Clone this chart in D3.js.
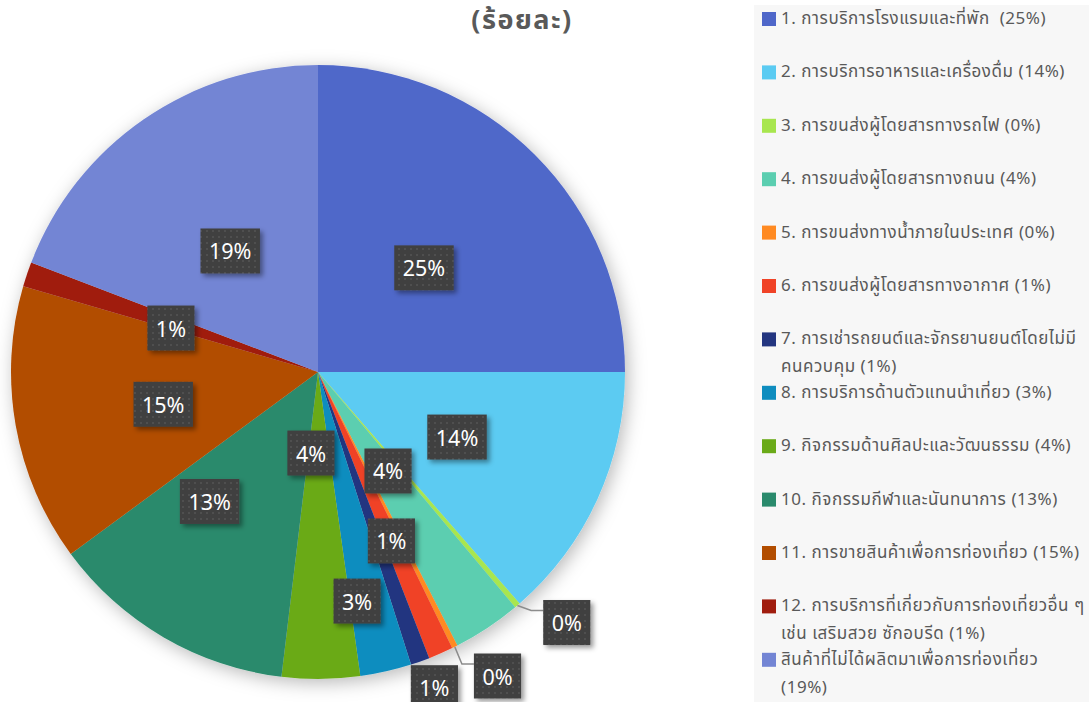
<!DOCTYPE html>
<html>
<head>
<meta charset="utf-8">
<script src="https://cdn.jsdelivr.net/npm/d3@7"></script>
<style>
  html, body { margin: 0; padding: 0; background: #ffffff; }
  svg { display: block; }
</style>
</head>
<body>
<svg id="chart" width="1089" height="702"></svg>
<script>
// ---- data ----
const categories = [
  "1. การบริการโรงแรมและที่พัก ",
  "2. การบริการอาหารและเครื่องดื่ม",
  "3. การขนส่งผู้โดยสารทางรถไฟ",
  "4. การขนส่งผู้โดยสารทางถนน",
  "5. การขนส่งทางน้ำภายในประเทศ",
  "6. การขนส่งผู้โดยสารทางอากาศ",
  "7. การเช่ารถยนต์และจักรยานยนต์โดยไม่มี\nคนควบคุม",
  "8. การบริการด้านตัวแทนนำเที่ยว",
  "9. กิจกรรมด้านศิลปะและวัฒนธรรม",
  "10. กิจกรรมกีฬาและนันทนาการ",
  "11. การขายสินค้าเพื่อการท่องเที่ยว",
  "12. การบริการที่เกี่ยวกับการท่องเที่ยวอื่น ๆ\nเช่น เสริมสวย ซักอบรีด",
  "สินค้าที่ไม่ได้ผลิตมาเพื่อการท่องเที่ยว\n"
];
const values = [25.0, 13.6, 0.3, 3.6, 0.3, 1.3, 1.0, 2.7, 4.1, 13.0, 14.6, 1.3, 19.2];
const colors = ["#4F67C9", "#5BCBF2", "#A8E64F", "#5BCEB0", "#FF8A22", "#F04327",
                "#233580", "#0F8DBF", "#6AAA18", "#2A8A6C", "#B24D00", "#A01D0E", "#7385D4"];
const titleText = "(ร้อยละ)";
// label layout: [radius factor, angle offset in degrees, outside with leader]
const labelLayout = [
  [0.484, 0.5, false], [0.50, 0.6, false], [1.15, -4.3, true], [0.395, -1.8, false],
  [1.15, -4.1, true], [0.60, 0.1, false], [1.096, -0.8, false], [0.757, 3.1, false],
  [0.265, 5.5, false], [0.55, 9.7, false], [0.515, -1.7, false], [0.50, -1.9, false],
  [0.487, -1.4, false]
];

// ---- chart ----
const svg = d3.select("#chart");
const W = 1089, H = 702;
const cx = 318, cy = 372, R = 307;
const fmt = d3.format(".0%");
const total = d3.sum(values);
const pctLabel = v => fmt(v / total);

const defs = svg.append("defs");
const pieShadow = defs.append("filter").attr("id", "pieShadow")
  .attr("x", "-20%").attr("y", "-20%").attr("width", "140%").attr("height", "140%");
pieShadow.append("feDropShadow").attr("dx", 3).attr("dy", 4)
  .attr("stdDeviation", 9).attr("flood-color", "#000").attr("flood-opacity", 0.28);
const boxShadow = defs.append("filter").attr("id", "boxShadow")
  .attr("x", "-30%").attr("y", "-30%").attr("width", "160%").attr("height", "160%");
boxShadow.append("feDropShadow").attr("dx", 3).attr("dy", 3)
  .attr("stdDeviation", 2.5).attr("flood-color", "#000").attr("flood-opacity", 0.4);
const pat = defs.append("pattern").attr("id", "dots")
  .attr("width", 6).attr("height", 6).attr("patternUnits", "userSpaceOnUse");
pat.append("rect").attr("width", 6).attr("height", 6).attr("fill", "#404040");
pat.append("circle").attr("cx", 3).attr("cy", 3).attr("r", 0.9).attr("fill", "#575757");

// legend background
const legendX = 754;
svg.append("rect").attr("x", legendX).attr("y", 5).attr("width", W - legendX).attr("height", H - 5)
  .attr("fill", "#F7F7F7");

// title
svg.append("text").attr("x", 522).attr("y", 29)
  .attr("text-anchor", "middle")
  .attr("font-family", "Tahoma, 'Noto Sans Thai', 'Noto Sans', sans-serif")
  .attr("font-size", 27).attr("letter-spacing", 1.5).attr("font-weight", "bold").attr("fill", "#595959")
  .text(titleText);

// pie
const pie = d3.pie().sort(null).value(d => d)(values);
const arc = d3.arc().innerRadius(0).outerRadius(R);
const g = svg.append("g").attr("transform", `translate(${cx},${cy})`);
g.append("g").attr("filter", "url(#pieShadow)")
  .selectAll("path").data(pie).join("path")
  .attr("d", arc)
  .attr("fill", (d, i) => colors[i]);

// labels
const lab = g.append("g");
pie.forEach((d, i) => {
  const [rf, off, leader] = labelLayout[i];
  const mid = (d.startAngle + d.endAngle) / 2;
  const a = mid + off * Math.PI / 180;
  const lx = Math.sin(a) * R * rf;
  const ly = -Math.cos(a) * R * rf;
  const txt = pctLabel(values[i]);
  const gi = lab.append("g");
  const t = gi.append("text")
    .attr("x", lx).attr("y", ly)
    .attr("text-anchor", "middle").attr("dominant-baseline", "central")
    .attr("font-family", "'Noto Sans', 'DejaVu Sans', sans-serif")
    .attr("font-size", 21.5).attr("fill", "#ffffff")
    .text(txt);
  const tw = t.node().getComputedTextLength();
  const bw = tw + 17, bh = 45;
  if (leader) {
    const px = Math.sin(mid) * R, py = -Math.cos(mid) * R;
    const ex = lx - bw / 2 - 12, ey = ly - 12;
    lab.insert("polyline", ":first-child")
      .attr("points", `${px},${py} ${ex},${ey} ${lx - bw / 2},${ey}`)
      .attr("fill", "none").attr("stroke", "#8C8C8C").attr("stroke-width", 1.5);
  }
  gi.insert("rect", "text")
    .attr("x", lx - bw / 2).attr("y", ly - bh / 2)
    .attr("width", bw).attr("height", bh)
    .attr("fill", "url(#dots)").attr("filter", "url(#boxShadow)");
});

// legend
const leg = svg.append("g");
categories.forEach((name, i) => {
  const y = 19 + i * 53.4;
  leg.append("rect").attr("x", 762).attr("y", y - 7).attr("width", 14).attr("height", 14)
    .attr("fill", colors[i]);
  const lines = (name + " (" + pctLabel(values[i]) + ")").split("\n");
  const t = leg.append("text")
    .attr("font-family", "Tahoma, 'Noto Sans Thai', 'Noto Sans', sans-serif")
    .attr("font-size", 17).attr("letter-spacing", 0.55).attr("fill", "#595959")
    .style("white-space", "pre");
  lines.forEach((ln, j) => {
    t.append("tspan").attr("x", 781).attr("y", y + j * 28)
      .attr("dominant-baseline", "central")
      .text(ln.replace(/^ \(/, "("));
  });
});
</script>
</body>
</html>
